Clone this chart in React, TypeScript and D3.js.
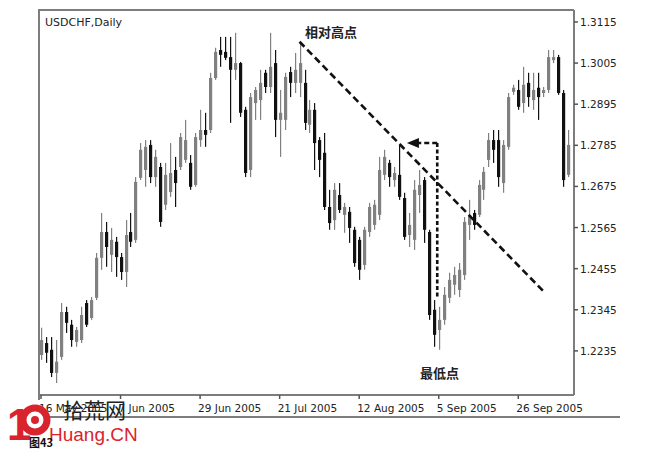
import React from "react";
import * as d3 from "d3";

const opens = [1.2224,1.2256,1.2238,1.2176,1.2219,1.2339,1.2305,1.2259,1.2264,1.2363,1.2323,1.2377,1.2484,1.2553,1.2492,1.2527,1.2486,1.2446,1.2553,1.2532,1.2698,1.2719,1.2786,1.2700,1.2727,1.2626,1.2660,1.2719,1.2727,1.2746,1.2738,1.2679,1.2799,1.2826,1.2826,1.2965,1.3040,1.3035,1.3021,1.2987,1.3005,1.2880,1.2719,1.2898,1.2906,1.2979,1.2941,1.3005,1.2853,1.2853,1.2981,1.2952,1.2952,1.2952,1.2840,1.2880,1.2799,1.2765,1.2620,1.2585,1.2652,1.2599,1.2607,1.2559,1.2532,1.2465,1.2553,1.2572,1.2599,1.2706,1.2738,1.2692,1.2706,1.2644,1.2545,1.2532,1.2652,1.2692,1.2553,1.2345,1.2291,1.2318,1.2377,1.2412,1.2398,1.2438,1.2572,1.2604,1.2599,1.2666,1.2746,1.2799,1.2799,1.2684,1.2781,1.2928,1.2933,1.2898,1.2952,1.2906,1.2939,1.2925,1.2933,1.3013,1.3021,1.2925,1.2706];
const highs = [1.2297,1.2272,1.2272,1.2264,1.2363,1.2353,1.2318,1.2299,1.2353,1.2371,1.2379,1.2497,1.2604,1.2580,1.2564,1.2540,1.2497,1.2585,1.2604,1.2700,1.2791,1.2799,1.2799,1.2773,1.2738,1.2738,1.2791,1.2754,1.2818,1.2853,1.2759,1.2818,1.2880,1.2872,1.2979,1.3046,1.3075,1.3075,1.3075,1.3086,1.3008,1.2888,1.2925,1.2941,1.2987,1.2987,1.3086,1.3040,1.2933,1.2979,1.2995,1.3032,1.3062,1.2987,1.2906,1.2898,1.2807,1.2818,1.2666,1.2684,1.2684,1.2631,1.2620,1.2567,1.2540,1.2567,1.2631,1.2639,1.2754,1.2773,1.2746,1.2727,1.2786,1.2658,1.2604,1.2692,1.2719,1.2700,1.2559,1.2371,1.2353,1.2406,1.2444,1.2460,1.2470,1.2593,1.2639,1.2612,1.2692,1.2727,1.2818,1.2826,1.2826,1.2799,1.2925,1.2947,1.2960,1.2995,1.2979,1.2979,1.2979,1.2941,1.3040,1.3040,1.3027,1.2933,1.2826];
const lows = [1.2211,1.2203,1.2165,1.2149,1.2211,1.2283,1.2246,1.2246,1.2256,1.2299,1.2318,1.2371,1.2452,1.2460,1.2446,1.2433,1.2425,1.2406,1.2513,1.2524,1.2692,1.2674,1.2684,1.2674,1.2567,1.2612,1.2647,1.2620,1.2719,1.2738,1.2666,1.2674,1.2781,1.2781,1.2818,1.2960,1.2995,1.3013,1.2845,1.2960,1.2861,1.2700,1.2700,1.2853,1.2853,1.2925,1.2925,1.2807,1.2754,1.2826,1.2914,1.2925,1.2914,1.2826,1.2818,1.2719,1.2700,1.2612,1.2559,1.2559,1.2604,1.2551,1.2524,1.2460,1.2425,1.2452,1.2540,1.2559,1.2585,1.2692,1.2674,1.2674,1.2639,1.2532,1.2513,1.2505,1.2604,1.2524,1.2318,1.2246,1.2238,1.2305,1.2363,1.2385,1.2379,1.2425,1.2532,1.2559,1.2593,1.2639,1.2727,1.2738,1.2674,1.2658,1.2773,1.2920,1.2880,1.2872,1.2888,1.2880,1.2853,1.2914,1.2925,1.3005,1.2920,1.2674,1.2700];
const closes = [1.2264,1.2230,1.2176,1.2206,1.2339,1.2310,1.2264,1.2291,1.2331,1.2305,1.2371,1.2484,1.2553,1.2513,1.2532,1.2486,1.2446,1.2545,1.2527,1.2687,1.2773,1.2781,1.2700,1.2754,1.2580,1.2706,1.2711,1.2684,1.2807,1.2799,1.2674,1.2807,1.2826,1.2813,1.2965,1.3035,1.3027,1.3019,1.2987,1.3005,1.2872,1.2711,1.2914,1.2933,1.2952,1.2941,1.2995,1.2853,1.2872,1.2968,1.2952,1.2987,1.3005,1.2845,1.2880,1.2791,1.2746,1.2620,1.2577,1.2666,1.2612,1.2620,1.2564,1.2470,1.2452,1.2559,1.2620,1.2626,1.2719,1.2754,1.2700,1.2711,1.2647,1.2540,1.2572,1.2666,1.2679,1.2559,1.2331,1.2278,1.2318,1.2385,1.2425,1.2438,1.2452,1.2580,1.2599,1.2572,1.2679,1.2714,1.2799,1.2773,1.2700,1.2786,1.2914,1.2939,1.2888,1.2947,1.2914,1.2933,1.2914,1.2933,1.3021,1.3021,1.2925,1.2692,1.2786];

const yTicks = [1.3115, 1.3005, 1.2895, 1.2785, 1.2675, 1.2565, 1.2455, 1.2345, 1.2235];
const xTickIdx = [0, 16, 32, 48, 64, 80, 96];
const xTickLabels = ["16 May 2005", "7 Jun 2005", "29 Jun 2005", "21 Jul 2005", "12 Aug 2005", "5 Sep 2005", "26 Sep 2005"];

const trendLine = [
  { i: 52, p: 1.3062 },
  { i: 101.4, p: 1.239 },
];
const lowMarker = { i: 79.7, top: 1.2791, bottom: 1.2379, arrowTip: 73.6 };

const title = "USDCHF,Daily";
const highLabel = "相对高点";
const lowLabel = "最低点";

export default function App() {
  const left = 39;
  const right = 574;
  const top = 10;
  const bottom = 395;
  const x = d3.scaleLinear().domain([0, opens.length - 1]).range([41, 568]);
  const y = d3.scaleLinear().domain([1.2117, 1.3147]).range([bottom, top]);
  const grey = "#7d7d7d";
  const upCol = "#808080";
  const downCol = "#111";
  const axisFont = "'DejaVu Sans', sans-serif";

  const trendPath = d3.line<{ i: number; p: number }>()
    .x((d) => x(d.i))
    .y((d) => y(d.p))(trendLine) as string;

  const mx = x(lowMarker.i);
  const my = y(lowMarker.top);
  const tipX = x(lowMarker.arrowTip);

  return (
    <svg width={663} height={450} style={{ position: "absolute", left: 0, top: 0, background: "#fff" }}>
      <rect x={0} y={0} width={663} height={450} fill="#fff" />
      {/* frame */}
      <line x1={left - 1} x2={right} y1={top} y2={top} stroke={grey} strokeWidth={2} />
      <line x1={left} x2={left} y1={top} y2={bottom + 5} stroke={grey} strokeWidth={2} />
      <line x1={right} x2={right} y1={top} y2={bottom} stroke={grey} strokeWidth={2} />
      <line x1={left - 1} x2={right} y1={bottom} y2={bottom} stroke={grey} strokeWidth={2} />
      <line x1={left - 1} x2={620} y1={417} y2={417} stroke={grey} strokeWidth={2} />

      <text x={45} y={26} fontFamily={axisFont} fontSize={11} fill="#222">{title}</text>

      {/* candles */}
      {opens.map((o, i) => {
        const c = closes[i];
        const up = c >= o;
        const col = up ? upCol : downCol;
        const cx = Math.round(x(i));
        const yh = y(highs[i]);
        const yl = y(lows[i]);
        const bt = y(Math.max(o, c));
        const bb = y(Math.min(o, c));
        return (
          <g key={i}>
            <rect x={cx} y={yh} width={1.2} height={yl - yh} fill={col} />
            <rect x={cx - 1} y={bt} width={3.2} height={Math.max(1.5, bb - bt)} fill={col} />
          </g>
        );
      })}

      {/* right axis */}
      {yTicks.map((t) => (
        <g key={t}>
          <line x1={right} x2={right + 4} y1={y(t)} y2={y(t)} stroke="#555" strokeWidth={1.5} />
          <text x={580} y={y(t) + 4} fontFamily={axisFont} fontSize={10.5} fill="#222">{t.toFixed(4)}</text>
        </g>
      ))}

      {/* bottom axis */}
      {xTickIdx.map((ti, k) => (
        <g key={ti}>
          <line x1={x(ti)} x2={x(ti)} y1={bottom} y2={bottom + 4} stroke="#555" strokeWidth={1.5} />
          <text x={x(ti) - 2} y={412} fontFamily={axisFont} fontSize={10.5} fill="#222">{xTickLabels[k]}</text>
        </g>
      ))}

      {/* annotations */}
      <path d={trendPath} stroke="#111" strokeWidth={2.6} strokeDasharray="7,4" fill="none" />
      <line x1={mx} x2={mx} y1={my} y2={y(lowMarker.bottom)} stroke="#111" strokeWidth={2.6} strokeDasharray="4,2.5" />
      <line x1={mx} x2={tipX + 11} y1={my} y2={my} stroke="#111" strokeWidth={2.6} strokeDasharray="5,3" />
      <path d={`M${tipX},${my} L${tipX + 12},${my - 5} L${tipX + 12},${my + 5} Z`} fill="#111" />

      <text x={305} y={37} fontFamily="'Noto Sans CJK SC', sans-serif" fontWeight="bold" fontSize={13} fill="#222">{highLabel}</text>
      <text x={420} y={378} fontFamily="'Noto Sans CJK SC', sans-serif" fontWeight="bold" fontSize={13} fill="#222">{lowLabel}</text>

      {/* watermark */}
      <text x={7} y={440} fontFamily="'Liberation Sans', Arial, sans-serif" fontWeight="bold" fontSize={44} fill="#d9232d">1</text>
      <circle cx={35} cy={420} r={12} fill="#fff" stroke="#d9232d" strokeWidth={7} />
      <circle cx={35} cy={420} r={4} fill="#d9232d" />
      <text x={63} y={418} fontFamily="'Noto Sans CJK SC', sans-serif" fontSize={21} fill="#222">拾荒网</text>
      <text x={49} y={441} fontFamily="'Liberation Sans', Arial, sans-serif" fontSize={19} fill="#d9232d">Huang.CN</text>
      <text x={29} y={447} fontFamily="'Noto Sans CJK SC', sans-serif" fontWeight="bold" fontSize={11} fill="#111">图43</text>
    </svg>
  );
}
